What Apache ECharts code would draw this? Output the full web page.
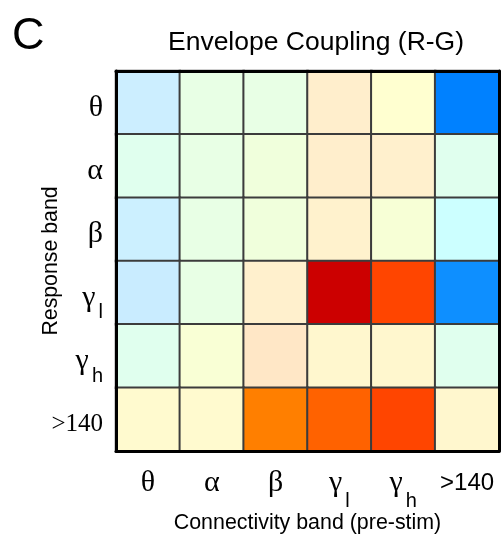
<!DOCTYPE html>
<html>
<head>
<meta charset="utf-8">
<script src="https://cdn.jsdelivr.net/npm/echarts@6/dist/echarts.min.js"></script>
<style>
  html, body { margin: 0; padding: 0; background: #fff; }
  #chart { width: 501px; height: 547px; }
</style>
</head>
<body>
<div id="chart"></div>
<script>
// Frequency bands (columns: connectivity band, rows: response band)
const connectivityBands = ['θ', 'α', 'β', 'γl', 'γh', '>140'];
const responseBands = ['θ', 'α', 'β', 'γl', 'γh', '>140'];

// Coupling values per response band, one entry per connectivity band
const rowTheta = [-0.50, -0.08, -0.08, 0.33, 0.17, -0.87];
const rowAlpha = [-0.17, -0.08, 0.00, 0.33, 0.31, -0.17];
const rowBeta  = [-0.48, -0.08, 0.00, 0.29, 0.08, -0.33];
const rowGammaL = [-0.505, -0.08, 0.31, 1.00, 0.83, -0.81];
const rowGammaH = [-0.17, 0.10, 0.42, 0.25, 0.25, -0.17];
const row140 = [0.22, 0.22, 0.67, 0.75, 0.83, 0.25];

const rows = [rowTheta, rowAlpha, rowBeta, rowGammaL, rowGammaH, row140];

// Colour scale stops, evenly spread over [-1, 1]
const colorStops = [
  '#0066FF', '#0088FF', '#66BBFF', '#CCEEFF', '#CCFFFF', '#E0FFEE', '#F0FFDC',
  '#FFFFD0', '#FFEECC', '#FFE0C0', '#FF8000', '#FF4400', '#CC0000'
];

const cells = [];
rows.forEach((row, r) => row.forEach((v, c) => cells.push([c, r, v])));

const serif = '"Liberation Serif", "DejaVu Serif", serif';
const sans = '"Liberation Sans", Arial, sans-serif';

function bandLabel(name, serifNumber) {
  if (name === 'γl') return '{g|γ}{s|l}';
  if (name === 'γh') return '{g|γ}{s|h}';
  if (name === '>140') return serifNumber ? '{n|>140}' : '{a|>140}';
  return '{g|' + name + '}';
}

function richStyles(subDrop) {
  return {
    g: { fontFamily: serif, fontSize: 30, color: '#000' },
    s: { fontFamily: sans, fontSize: 20, color: '#000', padding: [subDrop, 0, 0, 3] },
    n: { fontFamily: serif, fontSize: 25, color: '#000' },
    a: { fontFamily: sans, fontSize: 24, color: '#000' }
  };
}

const chart = echarts.init(document.getElementById('chart'), null, { renderer: 'canvas' });

const frameLine = { show: true, lineStyle: { color: '#000', width: 3 } };

chart.setOption({
  animation: false,
  backgroundColor: '#fff',
  title: {
    text: 'C',
    left: 7, top: 9,
    textStyle: { fontFamily: sans, fontSize: 45, fontWeight: 'normal', color: '#000' }
  },
  graphic: [
    {
      type: 'text',
      x: 316,
      y: 43,
      style: {
        text: 'Envelope Coupling (R-G)',
        fontFamily: sans,
        fontSize: 26.5,
        fill: '#000',
        align: 'center',
        verticalAlign: 'middle'
      }
    }
  ],
  grid: { left: 116, right: 2, top: 71, bottom: 96 },
  xAxis: [
    {
      type: 'category',
      data: connectivityBands,
      position: 'bottom',
      z: 10,
      axisLine: frameLine,
      axisTick: { show: false },
      splitLine: { show: false },
      axisLabel: {
        margin: 32,
        verticalAlign: 'middle',
        formatter: v => bandLabel(v, false),
        rich: richStyles(36)
      },
      name: 'Connectivity band (pre-stim)',
      nameLocation: 'middle',
      nameGap: 62,
      nameMoveOverlap: false,
      nameTextStyle: { fontFamily: sans, fontSize: 21.4, color: '#000' }
    },
    {
      type: 'category',
      data: connectivityBands,
      position: 'top',
      z: 10,
      axisLine: frameLine,
      axisTick: { show: false },
      axisLabel: { show: false }
    }
  ],
  yAxis: [
    {
      type: 'category',
      data: responseBands,
      inverse: true,
      position: 'left',
      z: 10,
      axisLine: frameLine,
      axisTick: { show: false },
      splitLine: { show: false },
      axisLabel: {
        margin: 13,
        padding: [10, 0, 0, 0],
        formatter: v => bandLabel(v, true),
        rich: richStyles(30)
      },
      name: 'Response band',
      nameLocation: 'middle',
      nameGap: 54,
      nameRotate: 90,
      nameMoveOverlap: false,
      nameTextStyle: { fontFamily: sans, fontSize: 21.3, color: '#000' }
    },
    {
      type: 'category',
      data: responseBands,
      inverse: true,
      position: 'right',
      z: 10,
      axisLine: frameLine,
      axisTick: { show: false },
      axisLabel: { show: false }
    }
  ],
  visualMap: {
    show: false,
    type: 'continuous',
    min: -1,
    max: 1,
    dimension: 2,
    inRange: { color: colorStops }
  },
  series: [
    {
      type: 'heatmap',
      data: cells,
      itemStyle: { borderColor: '#3c3c3c', borderWidth: 2 },
      emphasis: { disabled: true }
    }
  ]
});
</script>
</body>
</html>
